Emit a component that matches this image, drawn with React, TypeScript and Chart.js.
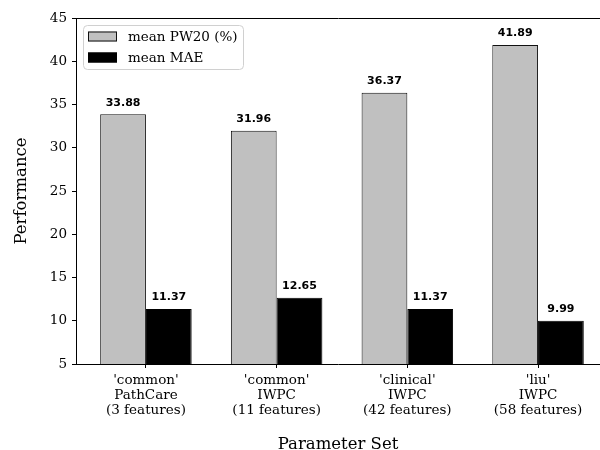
import React, { useEffect, useRef } from 'react';
import { Chart, registerables } from 'chart.js';

Chart.register(...registerables);

// ---- data ----
const categories: string[][] = [
  ["'common'", 'PathCare', '(3 features)'],
  ["'common'", 'IWPC', '(11 features)'],
  ["'clinical'", 'IWPC', '(42 features)'],
  ["'liu'", 'IWPC', '(58 features)'],
];
const seriesNames = ['mean PW20 (%)', 'mean MAE'];
const pw20Values = [33.88, 31.96, 36.37, 41.89];
const maeValues = [11.37, 12.65, 11.37, 9.99];
const yMin = 5;
const yMax = 45;
const yStep = 5;
const xAxisTitle = 'Parameter Set';
const yAxisTitle = 'Performance';

const SERIF = '"DejaVu Serif", serif';
const SANS = '"DejaVu Sans", sans-serif';

const valueLabelPlugin = {
  id: 'valueLabels',
  afterDatasetsDraw(chart: any) {
    const ctx = chart.ctx;
    ctx.save();
    ctx.font = `bold 11px ${SANS}`;
    ctx.fillStyle = '#000';
    ctx.textAlign = 'center';
    ctx.textBaseline = 'alphabetic';
    chart.data.datasets.forEach((ds: any, di: number) => {
      const meta = chart.getDatasetMeta(di);
      meta.data.forEach((el: any, i: number) => {
        const v = ds.data[i].y as number;
        ctx.fillText(v.toFixed(2), el.x, el.y - 8.5);
      });
    });
    ctx.restore();
  },
};

const boxLegendPlugin = {
  id: 'boxLegend',
  afterDraw(chart: any) {
    const ctx = chart.ctx;
    const a = chart.chartArea;
    const x0 = a.left + 7;
    const y0 = a.top + 7;
    const w = 160;
    const h = 44;
    ctx.save();
    ctx.beginPath();
    ctx.roundRect(x0 + 0.5, y0 + 0.5, w, h, 4);
    ctx.fillStyle = 'rgba(255,255,255,0.8)';
    ctx.fill();
    ctx.strokeStyle = '#d0d0d0';
    ctx.lineWidth = 1;
    ctx.stroke();
    chart.data.datasets.forEach((ds: any, i: number) => {
      const cy = y0 + 11.5 + i * 21;
      ctx.fillStyle = ds.backgroundColor;
      ctx.fillRect(x0 + 5, cy - 5, 29, 10);
      ctx.strokeStyle = ds.borderColor;
      ctx.lineWidth = 1;
      ctx.strokeRect(x0 + 5.5, cy - 4.5, 28, 9);
      ctx.fillStyle = '#000';
      ctx.font = `13.5px ${SERIF}`;
      ctx.textAlign = 'left';
      ctx.textBaseline = 'middle';
      ctx.fillText(ds.label, x0 + 45, cy + 0.5);
    });
    ctx.restore();
  },
};

export default function App() {
  const ref = useRef<HTMLCanvasElement>(null);

  useEffect(() => {
    document.body.style.margin = '0';
    document.body.style.overflow = 'hidden';
    const yTickValues: number[] = [];
    for (let v = yMin; v <= yMax; v += yStep) yTickValues.push(v);

    const chart = new Chart(ref.current as HTMLCanvasElement, {
      type: 'bar',
      data: {
        datasets: [
          {
            label: seriesNames[0],
            data: pw20Values.map((v, i) => ({ x: i, y: v })),
            backgroundColor: '#c0c0c0',
            borderColor: '#111',
            borderWidth: 1,
            borderSkipped: false,
          },
          {
            label: seriesNames[1],
            data: maeValues.map((v, i) => ({ x: i, y: v })),
            backgroundColor: '#000',
            borderColor: '#000',
            borderWidth: 1,
            borderSkipped: false,
          },
        ] as any,
      },
      options: {
        responsive: false,
        animation: false,
        layout: { padding: 0 },
        datasets: { bar: { categoryPercentage: 0.7, barPercentage: 1.0 } },
        plugins: {
          legend: { display: false },
          tooltip: { enabled: false },
        },
        scales: {
          x: {
            type: 'linear',
            position: 'bottom',
            min: -0.535,
            max: 3.474,
            offset: false,
            afterBuildTicks: (s: any) => {
              s.ticks = categories.map((_, i) => ({ value: i }));
            },
            afterFit: (s: any) => {
              s.height = 86;
            },
            ticks: {
              autoSkip: false,
              maxRotation: 0,
              padding: 4.5,
              color: '#000',
              font: { family: SERIF, size: 13.5, lineHeight: 1.13 },
              callback: (v: any) => categories[Math.round(Number(v))] ?? '',
            },
            grid: {
              display: true,
              drawOnChartArea: false,
              drawTicks: true,
              tickLength: 4,
              color: '#000',
              offset: false,
            },
            border: { display: true, color: '#000', width: 1 },
            title: {
              display: true,
              text: xAxisTitle,
              color: '#000',
              font: { family: SERIF, size: 16.5 },
              padding: { top: 0, bottom: -5 },
            },
          },
          xTop: {
            type: 'linear',
            position: 'top',
            min: -0.535,
            max: 3.474,
            offset: false,
            afterFit: (s: any) => {
              s.height = 18;
            },
            ticks: { display: false },
            grid: { display: false, offset: false },
            border: { display: true, color: '#000', width: 1 },
          },
          y: {
            type: 'linear',
            min: yMin,
            max: yMax,
            afterBuildTicks: (s: any) => {
              s.ticks = yTickValues.map((v) => ({ value: v }));
            },
            afterFit: (s: any) => {
              s.width = 76;
            },
            ticks: {
              stepSize: yStep,
              padding: 5,
              color: '#000',
              font: { family: SERIF, size: 13.5 },
            },
            grid: {
              display: true,
              drawOnChartArea: false,
              drawTicks: true,
              tickLength: 4,
              color: '#000',
            },
            border: { display: true, color: '#000', width: 1 },
            title: {
              display: true,
              text: yAxisTitle,
              color: '#000',
              font: { family: SERIF, size: 16.5 },
              padding: { top: 12, bottom: 0 },
            },
          },
        } as any,
      },
      plugins: [valueLabelPlugin, boxLegendPlugin],
    });
    return () => chart.destroy();
  }, []);

  return (
    <div style={{ position: 'fixed', left: 0, top: 0, width: 600, height: 450, overflow: 'hidden' }}>
      <canvas ref={ref} width={600} height={450} style={{ display: 'block' }} />
    </div>
  );
}
